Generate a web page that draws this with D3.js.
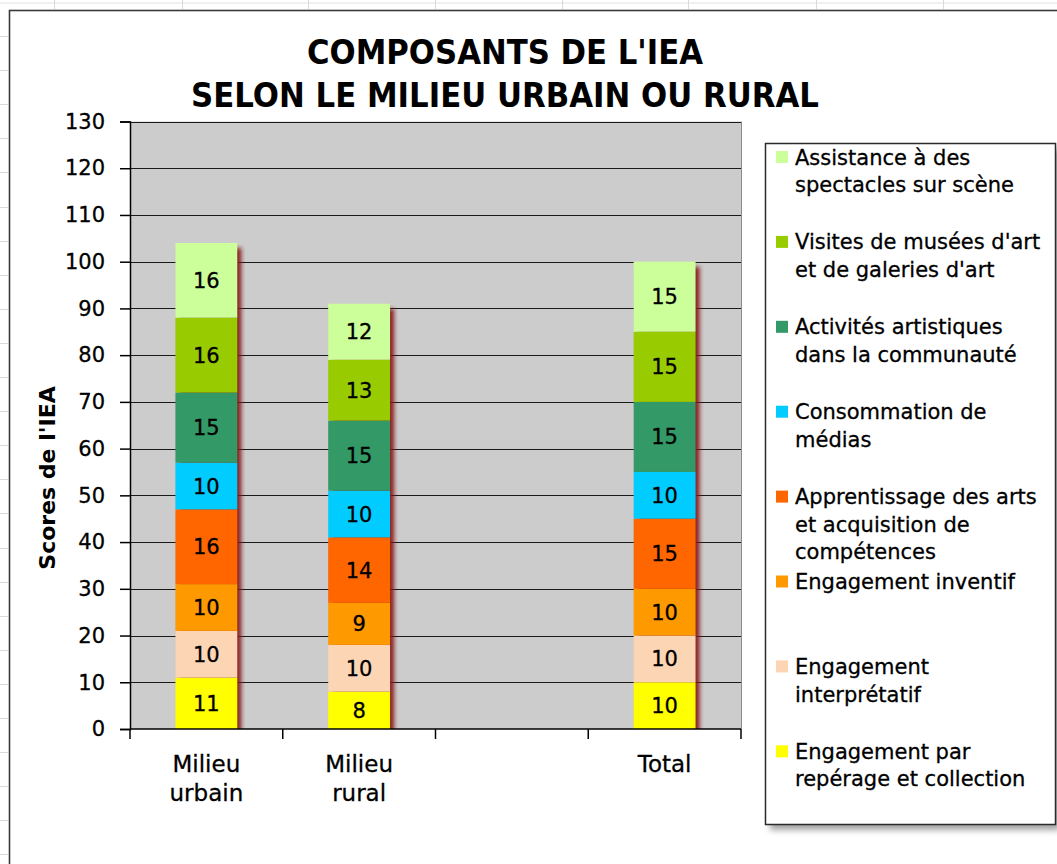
<!DOCTYPE html>
<html lang="fr">
<head>
<meta charset="utf-8">
<title>Composants de l'IEA</title>
<script src="https://cdn.jsdelivr.net/npm/d3@7"></script>
<style>
  html, body { margin: 0; padding: 0; background: #ffffff; }
  svg { display: block; }
  text { font-family: "DejaVu Sans", Verdana, sans-serif; fill: #000; }
  text.reg { stroke: #000; stroke-width: 0.3px; }
</style>
</head>
<body>
<svg id="chart" width="1057" height="864"></svg>
<script>
// Categories on the x axis (the third slot is intentionally left empty)
const categories = ["Milieu urbain", "Milieu rural", "", "Total"];

// Component scores, bottom of the stack to top
const reperage      = [11, 8, null, 10];
const interpretatif = [10, 10, null, 10];
const inventif      = [10, 9, null, 10];
const apprentissage = [16, 14, null, 15];
const medias        = [10, 10, null, 10];
const communaute    = [15, 15, null, 15];
const musees        = [16, 13, null, 15];
const spectacles    = [16, 12, null, 15];

const seriesKeys = ["reperage", "interpretatif", "inventif", "apprentissage",
                    "medias", "communaute", "musees", "spectacles"];
const seriesValues = [reperage, interpretatif, inventif, apprentissage,
                      medias, communaute, musees, spectacles];
const seriesColors = ["#ffff00", "#fcd5b4", "#ff9900", "#ff6600",
                      "#00ccff", "#339966", "#99cc00", "#ccff99"];

// Legend entries, top to bottom, with their line breaks
const legendKeys = ["spectacles", "musees", "communaute", "medias",
                    "apprentissage", "inventif", "interpretatif", "reperage"];
const legendLabels = [
  ["Assistance à des", "spectacles sur scène"],
  ["Visites de musées d'art", "et de galeries d'art"],
  ["Activités artistiques", "dans la communauté"],
  ["Consommation de", "médias"],
  ["Apprentissage des arts", "et acquisition de", "compétences"],
  ["Engagement inventif"],
  ["Engagement", "interprétatif"],
  ["Engagement par", "repérage et collection"]
];

const yTicks = d3.range(0, 131, 10);
const titleLines = ["COMPOSANTS DE L'IEA", "SELON LE MILIEU URBAIN OU RURAL"];
const yTitle = "Scores de l'IEA";

const svg = d3.select("#chart");
const defs = svg.append("defs");

defs.append("filter").attr("id", "barShadow")
  .attr("x", "-50%").attr("y", "-10%").attr("width", "200%").attr("height", "120%")
  .append("feGaussianBlur").attr("stdDeviation", 2);
defs.append("filter").attr("id", "boxShadow")
  .attr("x", "-10%").attr("y", "-10%").attr("width", "120%").attr("height", "120%")
  .append("feGaussianBlur").attr("stdDeviation", 3);

// Worksheet cells around the chart object
const sheet = svg.append("g");
sheet.append("line").attr("x1", 0).attr("x2", 1057).attr("y1", 3).attr("y2", 3)
  .attr("stroke", "#e2e2e2").attr("stroke-width", 1);
[54, 182, 308, 435, 562, 688, 816, 943].forEach(x => {
  sheet.append("line").attr("x1", x + 0.5).attr("x2", x + 0.5).attr("y1", 0).attr("y2", 9)
    .attr("stroke", "#dadada");
});
d3.range(36, 864, 34.1).forEach(y => {
  sheet.append("line").attr("x1", 0).attr("x2", 8).attr("y1", Math.round(y) + 0.5).attr("y2", Math.round(y) + 0.5)
    .attr("stroke", "#dadada");
});

// Chart object frame
svg.append("rect").attr("x", 9.5).attr("y", 10.5).attr("width", 1100).attr("height", 900)
  .attr("fill", "#ffffff").attr("stroke", "#3a3a3a").attr("stroke-width", 1.6);

// Plot geometry
const plot = { left: 130, right: 741, top: 121.5, bottom: 729 };

const x = d3.scaleBand()
  .domain(categories.map((c, i) => i))
  .range([plot.left, plot.right])
  .paddingInner(0.595)
  .paddingOuter(0.2975);

const y = d3.scaleLinear().domain([0, 130]).range([plot.bottom, plot.top]);

// Plot area background
svg.append("rect")
  .attr("x", plot.left).attr("y", plot.top)
  .attr("width", plot.right - plot.left).attr("height", plot.bottom - plot.top)
  .attr("fill", "#cccccc");
svg.append("line")
  .attr("x1", plot.right + 0.5).attr("x2", plot.right + 0.5)
  .attr("y1", plot.top).attr("y2", plot.bottom)
  .attr("stroke", "#8c8c8c").attr("stroke-width", 1);

// Horizontal gridlines
svg.append("g").selectAll("line").data(yTicks.filter(d => d > 0)).join("line")
  .attr("x1", plot.left).attr("x2", plot.right)
  .attr("y1", d => Math.round(y(d)) + 0.5).attr("y2", d => Math.round(y(d)) + 0.5)
  .attr("stroke", "#1a1a1a").attr("stroke-width", 1.2);

// Stacked data
const rows = categories.map((c, i) => {
  const r = { idx: i };
  seriesKeys.forEach((k, s) => { r[k] = seriesValues[s][i] || 0; });
  return r;
});
const stacked = d3.stack().keys(seriesKeys)(rows);
const totals = rows.map(r => d3.sum(seriesKeys, k => r[k]));

// Bar shadows, clipped to the plot area
defs.append("clipPath").attr("id", "plotClip").append("rect")
  .attr("x", plot.left).attr("y", plot.top)
  .attr("width", plot.right - plot.left).attr("height", plot.bottom - plot.top);
svg.append("g").attr("clip-path", "url(#plotClip)")
  .selectAll("rect").data(rows.filter((r, i) => totals[i] > 0)).join("rect")
  .attr("x", d => x(d.idx) + 4)
  .attr("y", d => y(totals[d.idx]) + 5)
  .attr("width", x.bandwidth())
  .attr("height", d => y(0) - y(totals[d.idx]))
  .attr("fill", "#861818")
  .attr("opacity", 0.95)
  .attr("filter", "url(#barShadow)");

// Bar segments
const layers = svg.append("g").selectAll("g").data(stacked).join("g")
  .attr("fill", (d, i) => seriesColors[i]);
layers.selectAll("rect").data(d => d.filter(p => p[1] > p[0])).join("rect")
  .attr("x", d => x(d.data.idx))
  .attr("y", d => y(d[1]))
  .attr("width", x.bandwidth())
  .attr("height", d => y(d[0]) - y(d[1]));

// Value labels
svg.append("g").selectAll("g").data(stacked).join("g")
  .selectAll("text").data(d => d.filter(p => p[1] > p[0]).map(p => ({ p, v: p[1] - p[0] })))
  .join("text")
  .attr("class", "reg")
  .attr("x", d => x(d.p.data.idx) + x.bandwidth() / 2)
  .attr("y", d => (y(d.p[0]) + y(d.p[1])) / 2)
  .attr("dy", "0.36em")
  .attr("text-anchor", "middle")
  .attr("font-size", 21)
  .text(d => d.v);

// Y axis
const yAxis = d3.axisLeft(y).tickValues(yTicks).tickSize(10).tickPadding(15);
const yg = svg.append("g").attr("transform", `translate(${plot.left},0)`).call(yAxis);
yg.select(".domain").attr("stroke", "#000").attr("stroke-width", 1.5);
yg.selectAll(".tick line").attr("stroke", "#000").attr("stroke-width", 1.5);
yg.selectAll(".tick text").attr("class", "reg").attr("font-size", 21)
  .attr("font-family", "DejaVu Sans").attr("fill", "#000");

// X axis line with ticks at the category boundaries
const xg = svg.append("g");
xg.append("line").attr("x1", plot.left).attr("x2", plot.right)
  .attr("y1", plot.bottom).attr("y2", plot.bottom)
  .attr("stroke", "#000").attr("stroke-width", 1.5);
const step = x.step();
xg.selectAll("line.tk").data(d3.range(categories.length + 1)).join("line")
  .attr("class", "tk")
  .attr("x1", i => plot.left + i * step).attr("x2", i => plot.left + i * step)
  .attr("y1", plot.bottom).attr("y2", plot.bottom + 10)
  .attr("stroke", "#000").attr("stroke-width", 1.5);

// Category labels
const catText = xg.selectAll("text.cat").data(categories.map((c, i) => ({ c, i }))).join("text")
  .attr("class", "cat reg")
  .attr("text-anchor", "middle")
  .attr("font-size", 23)
  .attr("x", d => x(d.i) + x.bandwidth() / 2)
  .attr("y", 772);
catText.selectAll("tspan").data(d => d.c.split(" ").map(w => ({ w, x: x(d.i) + x.bandwidth() / 2 }))).join("tspan")
  .attr("x", d => d.x)
  .attr("dy", (d, j) => j === 0 ? 0 : 29)
  .text(d => d.w);

// Y axis title
svg.append("text")
  .attr("transform", "translate(55,478) rotate(-90)")
  .attr("text-anchor", "middle")
  .attr("font-size", 22)
  .attr("font-weight", "bold")
  .text(yTitle);

// Chart title
svg.append("g").selectAll("text").data(titleLines).join("text")
  .attr("x", 505)
  .attr("y", (d, i) => 64 + i * 43)
  .attr("text-anchor", "middle")
  .attr("font-size", 34)
  .attr("font-weight", "bold")
  .attr("textLength", (d, i) => i === 0 ? 396 : 628)
  .attr("lengthAdjust", "spacingAndGlyphs")
  .text(d => d);

// Legend
const legend = { x: 765, y: 143, w: 290, h: 681 };
svg.append("rect")
  .attr("x", legend.x + 5).attr("y", legend.y + 6)
  .attr("width", legend.w).attr("height", legend.h)
  .attr("fill", "#7a7a7a").attr("opacity", 0.7)
  .attr("filter", "url(#boxShadow)");
svg.append("rect")
  .attr("x", legend.x + 0.5).attr("y", legend.y + 0.5)
  .attr("width", legend.w).attr("height", legend.h)
  .attr("fill", "#ffffff").attr("stroke", "#2b2b2b").attr("stroke-width", 1.5);

const items = svg.append("g").selectAll("g").data(legendKeys).join("g")
  .attr("transform", (d, i) => `translate(${legend.x},${157 + i * 84.9})`);
items.append("rect")
  .attr("x", 11).attr("y", -6).attr("width", 12).attr("height", 12)
  .attr("fill", d => seriesColors[seriesKeys.indexOf(d)]);
items.append("text")
  .attr("class", "reg")
  .attr("font-size", 21)
  .selectAll("tspan").data((d, i) => legendLabels[i]).join("tspan")
  .attr("x", 30)
  .attr("y", (d, j) => j * 27.6)
  .attr("dy", "0.36em")
  .text(d => d);
</script>
</body>
</html>
